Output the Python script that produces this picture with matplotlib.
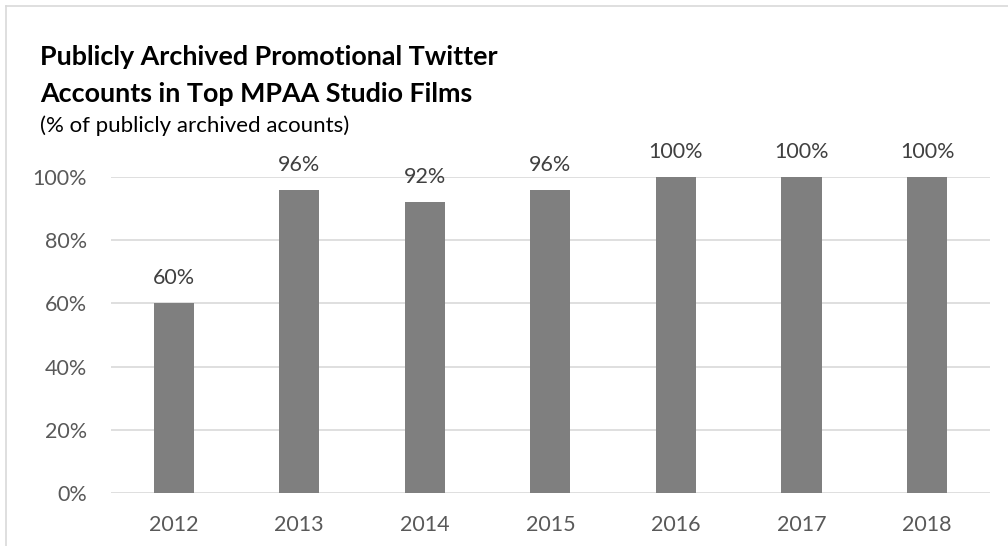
import matplotlib.pyplot as plt
from matplotlib.lines import Line2D

years = ['2012', '2013', '2014', '2015', '2016', '2017', '2018']
shares = [0.60, 0.96, 0.92, 0.96, 1.00, 1.00, 1.00]
labels = ['60%', '96%', '92%', '96%', '100%', '100%', '100%']
yticks = [0, 0.2, 0.4, 0.6, 0.8, 1.0]
ytick_labels = ['0%', '20%', '40%', '60%', '80%', '100%']

plt.rcParams['font.family'] = ['Lato', 'DejaVu Sans']

fig = plt.figure(figsize=(10.08, 5.46), dpi=100)
ax = fig.add_axes([0.110, 0.097, 0.872, 0.579])

x = range(len(years))
ax.bar(x, shares, width=0.32, color='#7f7f7f', zorder=3)
for i, v in enumerate(shares):
    ax.text(i, v + 0.079, labels[i], ha='center', va='center', fontsize=15.5,
            color='#404040', clip_on=False)

ax.set_xlim(-0.5, len(years) - 0.5)
ax.set_ylim(0, 1.0)
ax.set_yticks(yticks)
ax.set_yticklabels(ytick_labels)
ax.set_xticks(list(x))
ax.set_xticklabels(years)
ax.tick_params(axis='both', length=0, labelsize=15.5, labelcolor='#595959')
ax.tick_params(axis='y', pad=17)
ax.tick_params(axis='x', pad=15.5)
ax.grid(axis='y', color='#d9d9d9', linewidth=1.2, zorder=0)
ax.set_axisbelow(True)
for s in ax.spines.values():
    s.set_visible(False)

fig.text(0.040, 0.881, 'Publicly Archived Promotional Twitter', fontsize=19.4,
         fontweight='bold', color='black', va='baseline')
fig.text(0.040, 0.813, 'Accounts in Top MPAA Studio Films', fontsize=19.4,
         fontweight='bold', color='black', va='baseline')
fig.text(0.040, 0.758, '(% of publicly archived acounts)', fontsize=16,
         color='black', va='baseline')

# chart frame (left and top edges visible)
fig.add_artist(Line2D([0.006, 0.006], [0, 0.989], transform=fig.transFigure,
                      color='#d9d9d9', linewidth=1.2))
fig.add_artist(Line2D([0.006, 1.0], [0.989, 0.989], transform=fig.transFigure,
                      color='#d9d9d9', linewidth=1.2))

fig.savefig('out.png', dpi=100)
